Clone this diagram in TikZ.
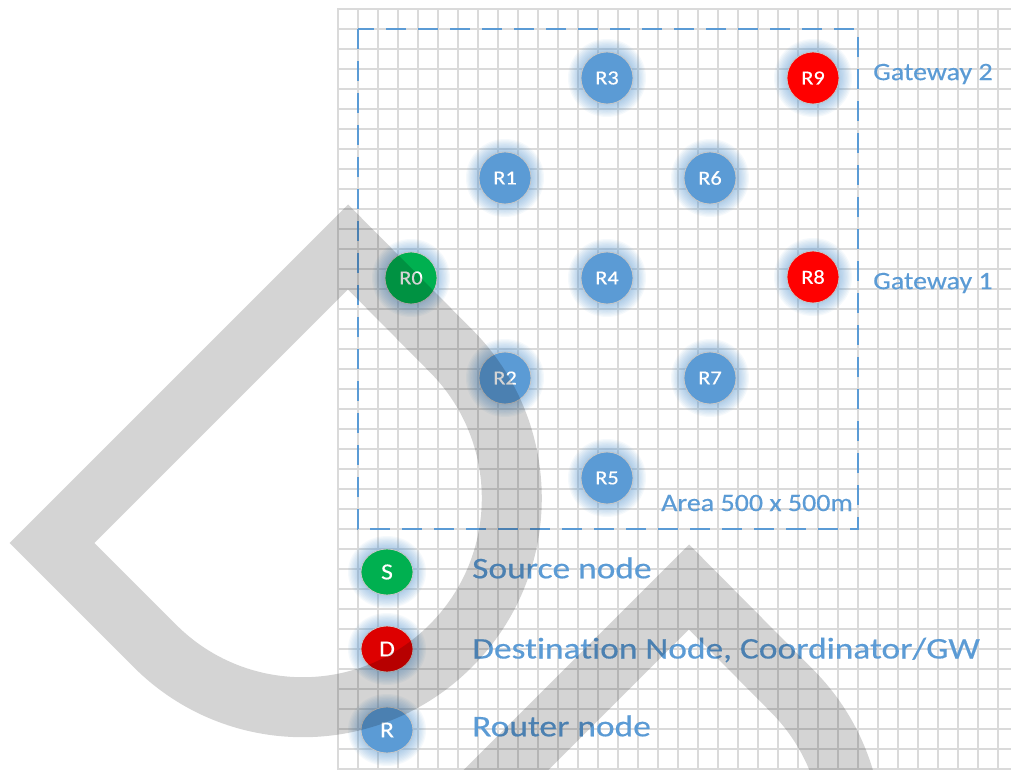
\documentclass[tikz,border=0pt]{standalone}
\usepackage{fontspec}
\setmainfont{Carlito}[Ligatures=NoCommon]
\usetikzlibrary{shapes.geometric}

\definecolor{nodeblue}{HTML}{5B9BD5}
\definecolor{gridgray}{HTML}{DADADA}
\definecolor{gwred}{HTML}{FF0000}
\definecolor{dstred}{HTML}{DD0000}
\definecolor{srcgreen}{HTML}{00B050}

% Office-style text is set slightly wider than Carlito's natural width
\newcommand{\widetext}[1]{\scalebox{1.12}[1]{#1}}
\newcommand{\widertext}[1]{\scalebox{1.18}[1]{#1}}

% soft blue halo drawn behind a node: centre, x radius, y radius
\newcommand{\nodeglow}[3]{%
  \foreach \k in {1,...,10}{%
    \fill[nodeblue, fill opacity=0.06] #1 ellipse [x radius={#2+\k*1.3}, y radius={#3+\k*1.3}];%
  }%
}

\begin{document}
\begin{tikzpicture}[x=1pt, y=1pt,
  netnode/.style={circle, minimum size=52pt, inner sep=0pt, draw=black!22,
    line width=0.8pt, text=white, font=\fontsize{20}{20}\selectfont\addfontfeature{FakeBold=0.3}},
  legnode/.style={ellipse, minimum width=52pt, minimum height=46pt, inner sep=0pt,
    draw=black!22, line width=0.8pt, text=white, font=\fontsize{23}{23}\selectfont\addfontfeature{FakeBold=0.3}},
  label text/.style={text=nodeblue, inner sep=0pt, anchor=west},
  gwtext/.style={label text, font=\fontsize{25}{25}\selectfont\addfontfeature{FakeBold=0.3}},
  legtext/.style={label text, font=\fontsize{30}{30}\selectfont\addfontfeature{FakeBold=0.4}},
  area/.style={draw=nodeblue, line width=2pt, dash pattern=on 20pt off 12pt},
  gridline/.style={draw=gridgray, line width=1.2pt},
  watermark/.style={draw=black, draw opacity=0.17, line width=60pt, line join=miter}
]
\useasboundingbox (0,0) rectangle (1011,769);
\clip (0,0) rectangle (1011,769);
\fill[white] (0,0) rectangle (1011,769);

% squared paper
\foreach \gx in {338,358,...,998} \draw[gridline] (\gx,0) -- (\gx,760);
\foreach \gy in {0,20,...,760} \draw[gridline] (337,\gy) -- (1011,\gy);

% simulation area
\draw[area] (358,740) rectangle (858,240);
\node[gwtext, anchor=east] (arealabel) at (853,266) {\widetext{Area 500 x 500m}};

% network nodes
\foreach \n/\px/\py/\c in {R3/607/691/nodeblue, R9/813/691/gwred,
    R1/505/591/nodeblue, R6/710/591/nodeblue,
    R0/411/491/srcgreen, R4/607/491/nodeblue, R8/813/492/gwred,
    R2/505/391/nodeblue, R7/710/391/nodeblue,
    R5/607/291/nodeblue}{%
  \nodeglow{(\px,\py)}{26}{26}
  \node[netnode, fill=\c] (\n) at (\px,\py) {\widetext{\n}};
}

\node[gwtext] (gw2) at (873,695) {\widetext{Gateway 2}};
\node[gwtext] (gw1) at (873,486) {\widetext{Gateway 1}};

% legend
\foreach \n/\t/\py/\c in {S/src/197/srcgreen, D/dst/120/dstred, R/rtr/39/nodeblue}{%
  \nodeglow{(387,\py)}{26}{23}
  \node[legnode, fill=\c] (leg\t) at (387,\py) {\widetext{\n}};
}
\node[legtext] (srctext) at (472,201) {\widertext{Source node}};
\node[legtext] (dsttext) at (472,119) {\widertext{Destination Node, Coordinator/GW}};
\node[legtext] (rtrtext) at (472,43) {\widertext{Router node}};

% translucent grey drop outlines laid over the drawing
\draw[watermark] (348,522) -- (52,226) -- (155,123)
  arc[start angle=225, end angle=405, radius=209] -- cycle;
\draw[watermark, shift={(341,-340)}] (348,522) -- (52,226) -- (155,123)
  arc[start angle=225, end angle=405, radius=209] -- cycle;
\end{tikzpicture}
\end{document}
